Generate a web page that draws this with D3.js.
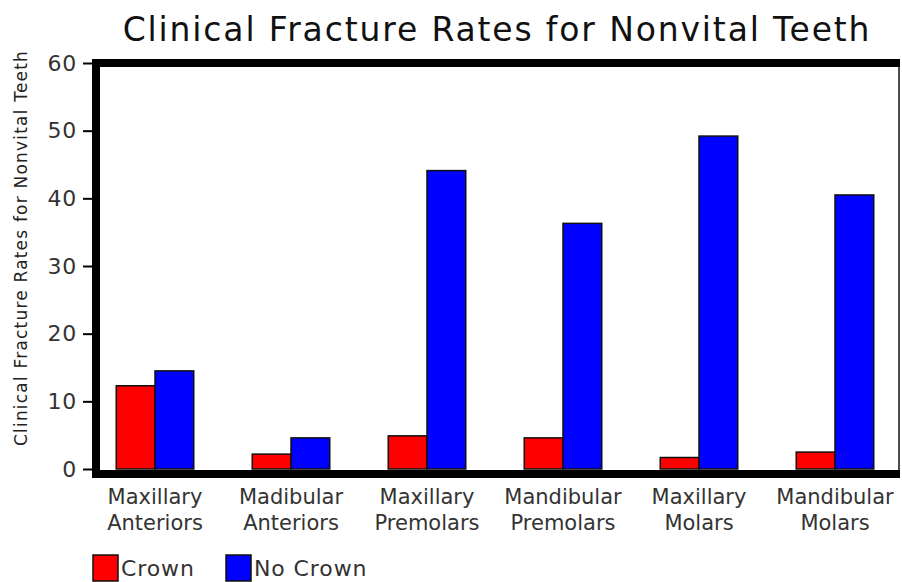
<!DOCTYPE html>
<html>
<head>
<meta charset="utf-8">
<script src="https://cdnjs.cloudflare.com/ajax/libs/d3/7.8.5/d3.min.js"></script>
<style>
  body { margin: 0; background: #fff; }
  svg { display: block; font-family: "DejaVu Sans", sans-serif; }
</style>
</head>
<body>
<svg id="chart"></svg>
<script>
const categories = [
  ["Maxillary", "Anteriors"],
  ["Madibular", "Anteriors"],
  ["Maxillary", "Premolars"],
  ["Mandibular", "Premolars"],
  ["Maxillary", "Molars"],
  ["Mandibular", "Molars"]
];
const series = ["Crown", "No Crown"];
const crown = [12.3, 2.2, 4.9, 4.6, 1.7, 2.5];
const noCrown = [14.5, 4.6, 44.1, 36.3, 49.2, 40.5];
const yTicks = [0, 10, 20, 30, 40, 50, 60];
const colors = ["#ff0000", "#0000ff"];

const width = 902, height = 582;
const svg = d3.select("#chart").attr("width", width).attr("height", height);

const plotLeft = 96, plotRight = 899, plotTop = 63, plotBottom = 469;

const x = d3.scaleBand()
  .domain(d3.range(categories.length))
  .range([87, 903])
  .paddingInner(0.43)
  .paddingOuter(0.215);

const xs = d3.scaleBand().domain(series).range([0, x.bandwidth()]);

const y = d3.scaleLinear().domain([0, 60]).range([plotBottom, plotTop]);

// title
svg.append("text")
  .attr("x", 497)
  .attr("y", 41)
  .attr("text-anchor", "middle")
  .attr("font-size", 33)
  .attr("letter-spacing", 1.85)
  .attr("fill", "#111")
  .text("Clinical Fracture Rates for Nonvital Teeth");

// y label
svg.append("text")
  .attr("transform", "translate(27,248) rotate(-90)")
  .attr("text-anchor", "middle")
  .attr("font-size", 17)
  .attr("letter-spacing", 1.2)
  .attr("fill", "#222")
  .text("Clinical Fracture Rates for Nonvital Teeth");

// bars
const rows = categories.map((c, i) => [crown[i], noCrown[i]]);
const groups = svg.append("g")
  .selectAll("g")
  .data(rows)
  .join("g")
  .attr("transform", (d, i) => `translate(${x(i)},0)`);

groups.selectAll("rect")
  .data(d => d.map((v, j) => ({ v, s: series[j], j })))
  .join("rect")
  .attr("x", d => xs(d.s))
  .attr("y", d => y(d.v))
  .attr("width", xs.bandwidth())
  .attr("height", d => y(0) - y(d.v))
  .attr("fill", d => colors[d.j])
  .attr("stroke", "#111")
  .attr("stroke-width", 1.5);

// y axis ticks
const yAxis = svg.append("g")
  .attr("transform", `translate(${plotLeft - 4},0)`)
  .call(d3.axisLeft(y).tickValues(yTicks).tickSize(9).tickPadding(6));
yAxis.select(".domain").remove();
yAxis.selectAll("line").attr("stroke", "#000").attr("stroke-width", 2);
yAxis.selectAll("text")
  .attr("font-size", 22)
  .attr("letter-spacing", 0.8)
  .attr("fill", "#333")
  .attr("font-family", "DejaVu Sans");

// frame
svg.append("line")
  .attr("x1", plotRight).attr("x2", plotRight)
  .attr("y1", plotTop).attr("y2", plotBottom + 4)
  .attr("stroke", "#111").attr("stroke-width", 1.5);
svg.append("line")
  .attr("x1", plotLeft - 4).attr("x2", plotRight + 1)
  .attr("y1", plotTop).attr("y2", plotTop)
  .attr("stroke", "#000").attr("stroke-width", 8);
svg.append("line")
  .attr("x1", plotLeft).attr("x2", plotLeft)
  .attr("y1", plotTop - 4).attr("y2", plotBottom + 9)
  .attr("stroke", "#000").attr("stroke-width", 8);
svg.append("line")
  .attr("x1", plotLeft - 4).attr("x2", plotRight + 1)
  .attr("y1", plotBottom + 5).attr("y2", plotBottom + 5)
  .attr("stroke", "#000").attr("stroke-width", 8);

// category labels
const lab = svg.append("g")
  .selectAll("text")
  .data(categories)
  .join("text")
  .attr("x", (d, i) => x(i) + x.bandwidth() / 2)
  .attr("y", 504)
  .attr("text-anchor", "middle")
  .attr("font-size", 21)
  .attr("fill", "#333");
lab.append("tspan").text(d => d[0]);
lab.append("tspan")
  .attr("x", (d, i) => x(i) + x.bandwidth() / 2)
  .attr("dy", 26)
  .text(d => d[1]);

// legend
const legendX = [93, 226];
const leg = svg.append("g")
  .selectAll("g")
  .data(series)
  .join("g")
  .attr("transform", (d, i) => `translate(${legendX[i]},555)`);
leg.append("rect")
  .attr("width", 25).attr("height", 26)
  .attr("fill", (d, i) => colors[i])
  .attr("stroke", "#111").attr("stroke-width", 1.5);
leg.append("text")
  .attr("x", 28)
  .attr("y", 21)
  .attr("font-size", 22)
  .attr("letter-spacing", 0.9)
  .attr("fill", "#333")
  .text(d => d);
</script>
</body>
</html>
